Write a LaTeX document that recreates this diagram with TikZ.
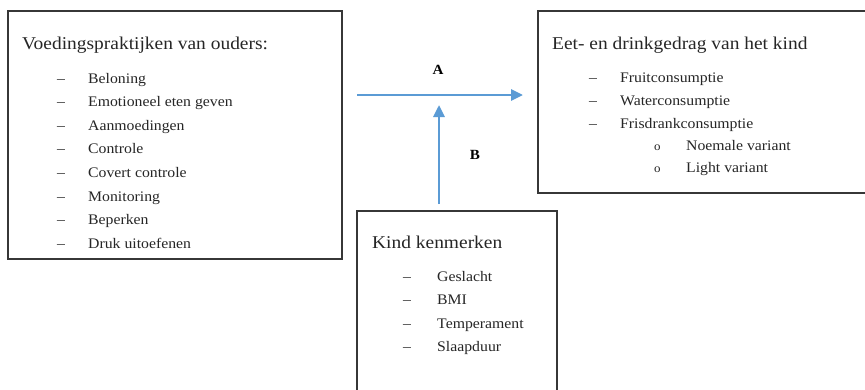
\documentclass[tikz,border=0pt]{standalone}
\usepackage{fontspec}
\setmainfont{Liberation Serif}[FakeStretch=1.08]
\usetikzlibrary{arrows.meta}
\definecolor{arrowblue}{RGB}{91,155,213}
\definecolor{boxline}{RGB}{55,55,55}
\begin{document}
\begin{tikzpicture}[x=1pt,y=-1pt,
  frame/.style={draw=boxline,line width=2pt,inner sep=0pt},
  ttl/.style={anchor=base west,inner sep=0pt,font=\fontsize{18}{20}\selectfont,text=black!85},
  itm/.style={anchor=base west,inner sep=0pt,font=\fontsize{14.6}{16}\selectfont,text=black!85},
  flow/.style={draw=arrowblue,line width=2.8pt,-{Triangle[length=12pt,width=11pt]}},
  lbl/.style={inner sep=0pt,font=\fontsize{14}{16}\selectfont\bfseries}]
\useasboundingbox (0,0) rectangle (865,389);
\fill[white] (0,0) rectangle (865,389);
% boxes
\node[frame,minimum width=334pt,minimum height=248pt] (prac) at (175,135) {};
\coordinate (eattl) at (538,11);
\coordinate (eatbl) at (538,193);
\coordinate (eattr) at (872,11);
\coordinate (eatbr) at (872,193);
\draw[boxline,line width=2pt] (eattr) -- (eattl) -- (eatbl) -- (eatbr);
\coordinate (kidtl) at (357,211);
\coordinate (kidtr) at (557,211);
\coordinate (kidbl) at (357,395);
\coordinate (kidbr) at (557,395);
\draw[boxline,line width=2pt] (kidbl) -- (kidtl) -- (kidtr) -- (kidbr);
% box 1 text
\node[ttl] (t1) at (22,49) {Voedingspraktijken van ouders:};
\foreach \y/\t [count=\i] in {78/Beloning,101/Emotioneel eten geven,125/Aanmoedingen,148/Controle,172/Covert controle,196/Monitoring,219/Beperken,243/Druk uitoefenen}{
  \node[itm] (d1\i) at (57,\y+5) {–};
  \node[itm] (i1\i) at (88,\y+5) {\t};
}
% box 2 text
\node[ttl] (t2) at (552,49) {Eet- en drinkgedrag van het kind};
\foreach \y/\t [count=\i] in {77/Fruitconsumptie,100/Waterconsumptie,123/Frisdrankconsumptie}{
  \node[itm] (d2\i) at (589,\y+5) {–};
  \node[itm] (i2\i) at (620,\y+5) {\t};
}
\foreach \y/\t [count=\i] in {145/Noemale variant,167/Light variant}{
  \node[itm] (c2\i) at (654,\y+5) {\fontsize{12}{13}\selectfont o};
  \node[itm] (s2\i) at (686,\y+5) {\t};
}
% box 3 text
\node[ttl] (t3) at (372,248) {Kind kenmerken};
\foreach \y/\t [count=\i] in {276/Geslacht,299/BMI,323/Temperament,346/Slaapduur}{
  \node[itm] (d3\i) at (403,\y+5) {–};
  \node[itm] (i3\i) at (437,\y+5) {\t};
}
% arrows
\coordinate (aS) at (357,95);
\coordinate (aE) at (523,95);
\coordinate (bS) at (439,204);
\coordinate (bE) at (439,105);
\draw[flow] (aS) -- (aE);
\draw[flow] (bS) -- (bE);
\node[lbl] (A) at (438,70) {A};
\node[lbl] (B) at (475,155) {B};
\end{tikzpicture}
\end{document}
